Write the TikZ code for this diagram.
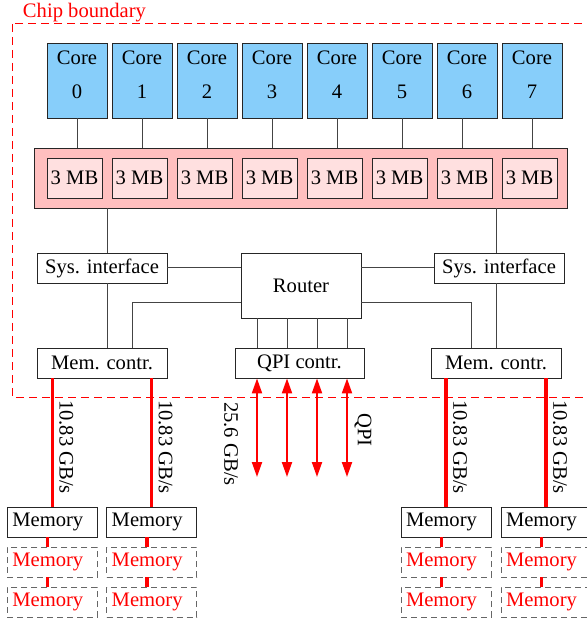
\documentclass[tikz,border=0pt]{standalone}
\usepackage{fontspec}
\setmainfont{Liberation Serif}
\usetikzlibrary{arrows.meta,positioning,calc}
\definecolor{corefill}{HTML}{87CEFA}
\definecolor{cachefill}{HTML}{FFBFBF}
\definecolor{slicefill}{HTML}{FFE0E0}
\definecolor{wiregray}{HTML}{444444}
\definecolor{ghostgray}{HTML}{666666}
\definecolor{linkred}{HTML}{FF0000}
\tikzset{
  corebox/.style={draw=black!85, fill=corefill, align=center, inner sep=0pt,
    minimum width=30pt, minimum height=37.5pt, text depth=5.5pt,
    font=\fontsize{10.3}{17}\selectfont},
  cachebox/.style={draw=black!85, fill=cachefill, minimum width=266.5pt,
    minimum height=30pt, inner sep=0pt},
  slicebox/.style={draw=black!85, fill=slicefill, minimum width=27.5pt,
    minimum height=20pt, inner sep=0pt},
  unitbox/.style={draw=black!85, minimum width=65pt, minimum height=15pt, inner sep=0pt},
  routerbox/.style={unitbox, minimum width=60pt, minimum height=32.5pt},
  membox/.style={draw=black!85, text width=40pt, align=left, inner xsep=2.5pt,
    minimum height=15pt, inner ysep=0pt},
  ghostbox/.style={membox, draw=ghostgray, dashed, dash pattern=on 3pt off 2pt,
    text=linkred},
  wire/.style={draw=wiregray, line width=0.5pt},
  memlink/.style={draw=linkred, line width=1.6pt},
  qpiarr/.style={{Triangle[length=7.5pt,width=5pt]}-{Triangle[length=7.5pt,width=5pt]},
    draw=linkred, fill=linkred, line width=1pt},
  chipline/.style={draw=linkred, line width=0.5pt, dash pattern=on 4pt off 2.5pt},
  ratetext/.style={rotate=-90, inner sep=0pt}
}
\begin{document}
\begin{tikzpicture}[x=0.5pt, y=-0.5pt, font=\fontsize{10.3}{12.4}\selectfont]
  \useasboundingbox (0,0) rectangle (586,619);
  % chip outline
  \draw[chipline] (12,24) rectangle (600,397);
  \node[text=linkred, inner sep=0pt] (chiplbl) at (84.5,12.5) {Chip boundary};

  % cores and last level cache
  \node[cachebox] (llc) at (300.5,178) {};
  \foreach \i/\off in {0/0,1/0,2/0,3/0,4/0,5/0,6/-5,7/0}{
    \node[corebox] (core\i) at (77+65*\i,80.5) {Core\\\i};
    \node[slicebox] (slice\i) at (74.5+65*\i,178) {3 MB};
    \draw[wire] ([xshift=\off*0.5pt]core\i.south) -- ([xshift=\off*0.5pt]core\i.south |- llc.north);
  }

  % uncore
  \node[unitbox] (sysL) at (102,268) {Sys. interface};
  \node[unitbox] (sysR) at (499,268) {Sys. interface};
  \node[routerbox] (router) at (301,285.5) {Router};
  \node[unitbox] (memL) at (102,363) {Mem. contr.};
  \node[unitbox] (memR) at (496,363) {Mem. contr.};
  \node[unitbox, minimum width=64.5pt] (qpi) at (299.5,363) {QPI contr.};

  \coordinate (busL) at (107,0);
  \coordinate (busR) at (496,0);
  \coordinate (tapL) at (132,303);
  \coordinate (tapR) at (471,303);
  \draw[wire] (llc.south -| busL) -- (sysL.north -| busL);
  \draw[wire] (sysL.south -| busL) -- (memL.north -| busL);
  \draw[wire] (llc.south -| busR) -- (sysR.north -| busR);
  \draw[wire] (sysR.south -| busR) -- (memR.north -| busR);
  \draw[wire] (sysL.east) -- (router.west |- sysL.east);
  \draw[wire] (sysR.west) -- (router.east |- sysR.west);
  \draw[wire] (router.west |- tapL) -| (memL.north -| tapL);
  \draw[wire] (router.east |- tapR) -| (memR.north -| tapR);

  % QPI links
  \coordinate (qpiend) at (0,477);
  \foreach \x in {257,287,317,347}{
    \draw[wire] (router.south -| \x,0) -- (qpi.north -| \x,0);
    \draw[qpiarr] (qpi.south -| \x,0) -- (qpiend -| \x,0);
  }
  \node[ratetext] (qpirate) at (231,444) {25.6 GB/s};
  \node[ratetext] (qpilbl) at (363,430) {QPI};

  % memory channels
  \foreach \n/\x/\c in {a/52.3/memL,b/151.7/memL,c/446/memR,d/546/memR}{
    \node[membox] (mem\n) at (\x,522) {Memory};
    \node[ghostbox] (mem\n2) at (\x,562) {Memory};
    \node[ghostbox] (mem\n3) at (\x,602) {Memory};
    \draw[memlink] (mem\n.north |- \c.south) -- (mem\n.north);
    \draw[memlink] ([xshift=-2.4pt]mem\n.south) -- ([xshift=-2.4pt]mem\n2.north);
    \draw[memlink] ([xshift=-2.4pt]mem\n2.south) -- ([xshift=-2.4pt]mem\n3.north);
    \node[ratetext] (rate\n) at (\x+14,447) {10.83 GB/s};
  }
\end{tikzpicture}
\end{document}
